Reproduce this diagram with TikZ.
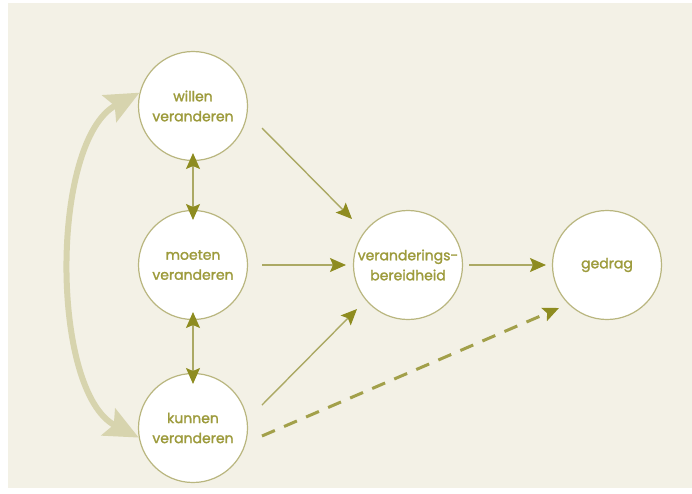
\documentclass[tikz,border=0pt]{standalone}
\usepackage{fontspec}
\setmainfont{Poppins}
\newfontfamily\nodefont{Poppins}[FakeBold=1.6]
\usetikzlibrary{arrows.meta}
\definecolor{bgc}{HTML}{F3F1E6}
\definecolor{ringc}{HTML}{B9B67F}
\definecolor{txtc}{HTML}{9D9B3C}
\definecolor{linec}{HTML}{ABA964}
\definecolor{tipc}{HTML}{8E8C20}
\definecolor{dashc}{HTML}{A2A04A}
\definecolor{bigc}{HTML}{D7D4AE}
\tikzset{
  circ/.style={circle, draw=ringc, line width=1.2pt, fill=white, minimum size=109pt,
    inner sep=0pt, align=center, text=txtc, font=\nodefont\fontsize{14}{20}\selectfont},
  tipstyle/.style={-{Stealth[length=16pt,width=14pt,inset=3pt,color=tipc]}},
  conn/.style={draw=linec, line width=1.4pt, tipstyle},
  dconn/.style={draw=linec, line width=1.4pt, {Stealth[length=16pt,width=14pt,inset=3pt,color=tipc]}-{Stealth[length=16pt,width=14pt,inset=3pt,color=tipc]}},
  dashconn/.style={draw=dashc, line width=3pt, dash pattern=on 14pt off 10pt, tipstyle},
  bigarrow/.style={draw=bigc, line width=6pt, {Stealth[length=34pt,width=30pt,inset=6pt]}-{Stealth[length=34pt,width=30pt,inset=6pt]}}
}
\begin{document}
\begin{tikzpicture}[x=1pt,y=-1pt]
\useasboundingbox (0,0) rectangle (692,493);
\fill[white] (0,0) rectangle (692,493);
\fill[bgc] (8,3) rectangle (692,488);

\node[circ] (w) at (193,106) {willen\\veranderen};
\node[circ] (m) at (193,265) {moeten\\veranderen};
\node[circ] (k) at (193,428) {kunnen\\veranderen};
\node[circ] (v) at (408,265) {veranderings-\\bereidheid};
\node[circ] (g) at (607,265) {gedrag};

\draw[bigarrow] (k.190) .. controls (50,392) and (50,140) .. (w.166);

\draw[dconn] ([shift={(0,47)}]w.center) -- ([shift={(0,-45)}]m.center);
\draw[dconn] ([shift={(0,47)}]m.center) -- ([shift={(0,-44)}]k.center);

\draw[conn] ([shift={(69,22)}]w.center) -- ([shift={(-56,-46)}]v.center);
\draw[conn] ([shift={(69,0)}]m.center) -- ([shift={(-62,0)}]v.center);
\draw[conn] ([shift={(69,-23)}]k.center) -- ([shift={(-51,44)}]v.center);
\draw[conn] ([shift={(61,0)}]v.center) -- ([shift={(-61,0)}]g.center);
\draw[dashconn] ([shift={(69,8)}]k.center) -- ([shift={(-48,43)}]g.center);
\end{tikzpicture}
\end{document}
